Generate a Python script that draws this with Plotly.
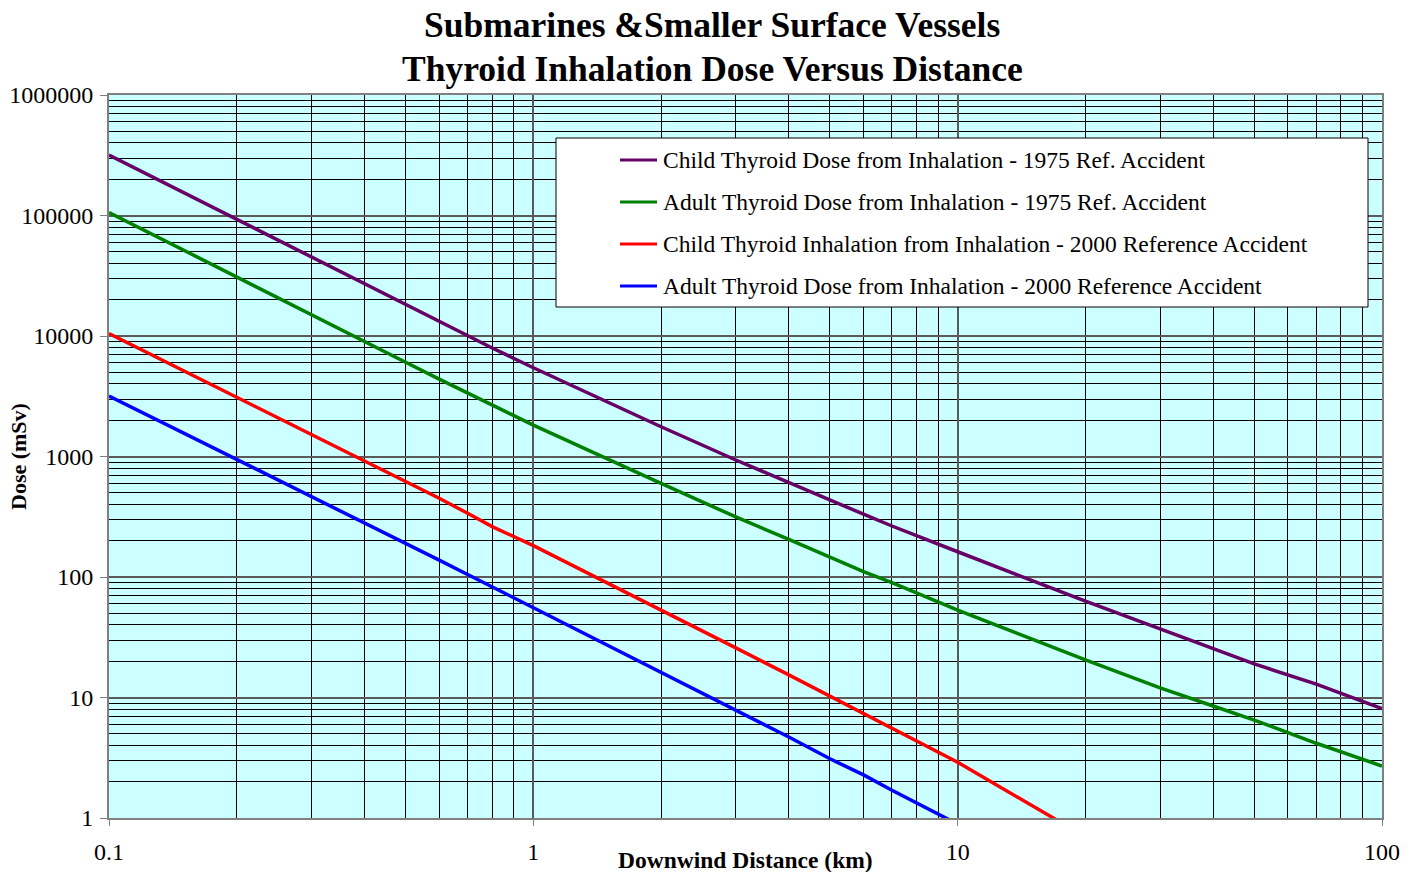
import plotly.graph_objects as go

# Downwind distances (km) and thyroid inhalation doses (mSv)
dist_1975 = [0.1, 0.2, 0.3, 0.4, 0.5, 0.6, 0.7, 0.8, 1, 2, 3, 4, 5, 6, 7, 8, 10,
             20, 30, 40, 50, 70, 100]
child_1975 = [318000, 93000, 45000, 27000, 18150, 13120, 9985, 7950, 5450, 1766,
              935, 604, 435, 332, 265, 219, 162, 63, 37, 25.2, 19.0, 12.9, 8.1]
adult_1975 = [106000, 30700, 14900, 8970, 6055, 4390, 3354, 2663, 1822, 598, 315,
              205, 146, 111, 89.7, 74, 53.2, 20.5, 12.0, 8.5, 6.5, 4.17, 2.7]

dist_child_2000 = [0.1, 0.2, 0.3, 0.4, 0.5, 0.6, 0.7, 0.8, 1, 2, 3, 4, 5, 6, 7, 8,
                   10, 20]
child_2000 = [10500, 3100, 1540, 923, 626, 450, 338, 262, 182, 53.5, 25.8, 15.4,
              10.3, 7.4, 5.6, 4.38, 2.9, 0.70]

dist_adult_2000 = [0.1, 0.2, 0.3, 0.4, 0.5, 0.6, 0.7, 0.8, 0.9, 1, 2, 3, 4, 5, 6,
                   7, 8, 10]
adult_2000 = [3180, 948, 470, 282, 190, 138, 105, 82.8, 67.2, 55.7, 16.4, 7.9,
              4.7, 3.1, 2.28, 1.7, 1.34, 0.89]

series_names = [
    "Child Thyroid Dose from Inhalation - 1975 Ref. Accident",
    "Adult Thyroid Dose from Inhalation - 1975 Ref. Accident",
    "Child Thyroid Inhalation from Inhalation - 2000 Reference Accident",
    "Adult Thyroid Dose from Inhalation - 2000 Reference Accident",
]
series_colors = ["#660066", "#008000", "#FF0000", "#0000FF"]

x_tick_vals = [0.1, 1, 10, 100]
x_tick_text = ["0.1", "1", "10", "100"]
y_tick_vals = [1, 10, 100, 1000, 10000, 100000, 1000000]
y_tick_text = ["1", "10", "100", "1000", "10000", "100000", "1000000"]

FONT = "Liberation Serif"

# figure / plot-area geometry in pixels
W, H = 1415, 872
L, R, T, B = 109, 1382, 95, 818


def px_x(p):
    return (p - L) / (R - L)


def px_y(p):
    return (B - p) / (B - T)


x_minor = [k * 10.0 ** e for e in (-1, 0, 1) for k in range(2, 10)]
y_minor = [k * 10.0 ** e for e in range(0, 6) for k in range(2, 10)]

xs = [dist_1975, dist_1975, dist_child_2000, dist_adult_2000]
ys = [child_1975, adult_1975, child_2000, adult_2000]

fig = go.Figure()
for x, y, name, color in zip(xs, ys, series_names, series_colors):
    fig.add_trace(go.Scatter(x=x, y=y, name=name, mode="lines",
                             line=dict(color=color, width=3.5),
                             showlegend=False))

axis_common = dict(
    type="log",
    automargin=False,
    showline=True, linecolor="#7f7f7f", linewidth=2, mirror=True,
    showgrid=True, gridcolor="#5a5a5a", gridwidth=1.5,
    zeroline=False,
    ticks="outside", tickcolor="#7f7f7f", tickwidth=1,
    tickfont=dict(family=FONT, size=24, color="black"),
    tickmode="array",
)

fig.update_xaxes(
    **axis_common,
    range=[-1, 2],
    tickvals=x_tick_vals, ticktext=x_tick_text, ticklen=6,
    ticklabelstandoff=5,
    minor=dict(tickvals=x_minor, showgrid=True, gridcolor="black",
               gridwidth=1, ticks=""),
)
fig.update_yaxes(
    **axis_common,
    range=[0, 6],
    tickvals=y_tick_vals, ticktext=y_tick_text, ticklen=7,
    ticklabelstandoff=2,
    minor=dict(tickvals=y_minor, showgrid=True, gridcolor="black",
               gridwidth=1, ticks=""),
)

# legend box drawn as shapes + annotations
shapes = [dict(type="rect", xref="paper", yref="paper",
               x0=px_x(556), x1=px_x(1368), y0=px_y(307), y1=px_y(138),
               fillcolor="white", line=dict(color="black", width=1),
               layer="above")]
annotations = []
row_y = [160, 202, 244, 286]
for name, color, ry in zip(series_names, series_colors, row_y):
    shapes.append(dict(type="line", xref="paper", yref="paper",
                       x0=px_x(620), x1=px_x(657), y0=px_y(ry), y1=px_y(ry),
                       line=dict(color=color, width=3), layer="above"))
    annotations.append(dict(text=name, xref="paper", yref="paper",
                            x=px_x(661), y=px_y(ry), xanchor="left",
                            yanchor="middle", showarrow=False,
                            font=dict(family=FONT, size=23.5, color="black")))

# chart title (two lines)
for txt, ty in [("Submarines &Smaller Surface Vessels", 25),
                ("Thyroid Inhalation Dose Versus Distance", 69)]:
    annotations.append(dict(text="<b>%s</b>" % txt, xref="paper", yref="paper",
                            x=px_x(712), y=px_y(ty), xanchor="center",
                            yanchor="middle", showarrow=False,
                            font=dict(family=FONT, size=35.5, color="black")))

# axis titles
annotations.append(dict(text="<b>Downwind Distance (km)</b>", xref="paper",
                        yref="paper", x=px_x(745), y=px_y(860),
                        xanchor="center", yanchor="middle", showarrow=False,
                        font=dict(family=FONT, size=23.5, color="black")))
annotations.append(dict(text="<b>Dose (mSv)</b>", xref="paper", yref="paper",
                        x=px_x(18), y=px_y(457), xanchor="center",
                        yanchor="middle", showarrow=False, textangle=-90,
                        font=dict(family=FONT, size=22, color="black")))

fig.update_layout(
    width=W, height=H,
    margin=dict(l=L, r=W - R, t=T, b=H - B),
    paper_bgcolor="white",
    plot_bgcolor="#CCFFFF",
    shapes=shapes,
    annotations=annotations,
    showlegend=False,
)

fig.write_html("out.html")
